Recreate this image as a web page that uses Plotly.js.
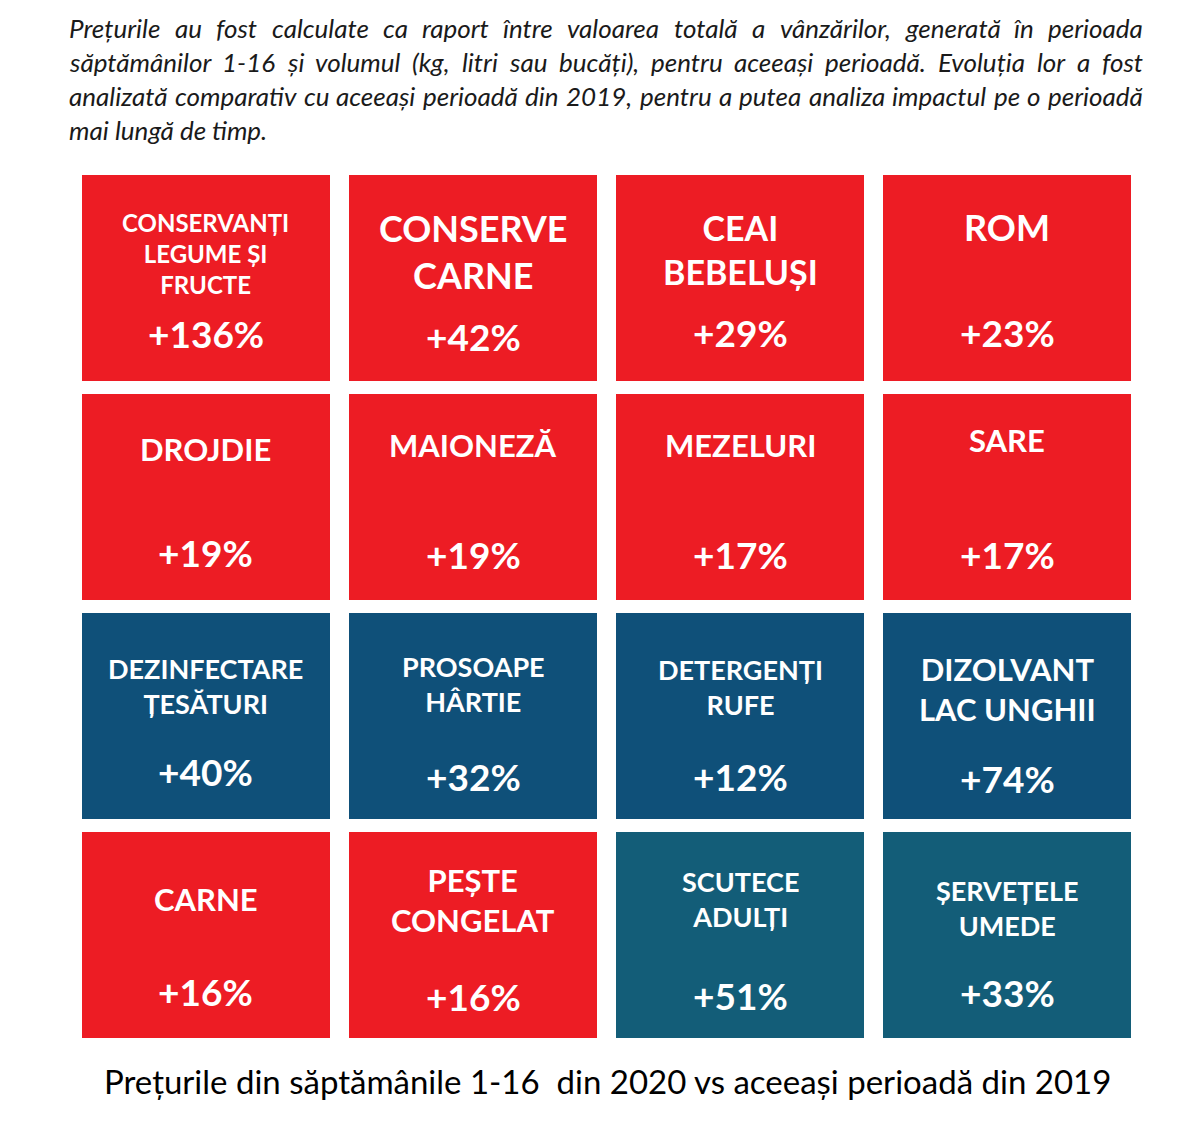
<!DOCTYPE html>
<html><head><meta charset="utf-8">
<script src="https://cdn.plot.ly/plotly-3.0.1.min.js"></script>
<style>body{margin:0;background:#fff}</style>
</head><body><div id="chart" style="width:1200px;height:1125px"></div>
<script>
// ---- data ----
const categories = [
  ['CONSERVANȚI','LEGUME ȘI','FRUCTE'], ['CONSERVE','CARNE'], ['CEAI','BEBELUȘI'], ['ROM'],
  ['DROJDIE'], ['MAIONEZĂ'], ['MEZELURI'], ['SARE'],
  ['DEZINFECTARE','ȚESĂTURI'], ['PROSOAPE','HÂRTIE'], ['DETERGENȚI','RUFE'], ['DIZOLVANT','LAC UNGHII'],
  ['CARNE'], ['PEȘTE','CONGELAT'], ['SCUTECE','ADULȚI'], ['ȘERVEȚELE','UMEDE']
];
const priceChange = [136, 42, 29, 23, 19, 19, 17, 17, 40, 32, 12, 74, 16, 16, 51, 33];
const segment = ['food','food','food','food','food','food','food','food',
                 'nonfood','nonfood','nonfood','nonfood','food','food','nonfood2','nonfood2'];
const headerLines = [
  'Prețurile au fost calculate ca raport între valoarea totală a vânzărilor, generată în perioada',
  'săptămânilor 1-16 și volumul (kg, litri sau bucăți), pentru aceeași perioadă. Evoluția lor a fost',
  'analizată comparativ cu aceeași perioadă din 2019, pentru a putea analiza impactul pe o perioadă',
  'mai lungă de timp.'
];
const footerText = 'Prețurile din săptămânile 1-16  din 2020 vs aceeași perioadă din 2019';

// ---- style ----
const colorMap = {food:'#ED1C24', nonfood:'#0F5079', nonfood2:'#135D78'};
const labelSize = [24,36,34,36, 31,31,31,31, 27,27,27,31, 31,31,27,27];
const labelShift = [25,27,29,51, 48,52,52,57, 30,32,29,27, 36,35,36,27];
const pctShift = [-55,-58,-54,-54, -55,-57,-57,-57, -55,-60,-60,-62, -56,-61,-60,-57];
const NCOL = 4;
const FONT = 'Lato, "Open Sans", sans-serif';
const HEADER_SIZE = 26, HEADER_LEFT = 68, HEADER_RIGHT = 1142;

const cols = priceChange.map((_, i) => i % NCOL);
const rows = priceChange.map((_, i) => Math.floor(i / NCOL));
const tileH = 0.945, tileW = 0.929;

const trace = {
  type: 'bar',
  x: cols,
  y: cols.map(() => tileH),
  base: rows.map(r => r - tileH / 2),
  width: tileW,
  marker: {color: segment.map(s => colorMap[s]), line: {width: 0}},
  text: categories.map((c, i) => c.join(' ') + ': +' + priceChange[i] + '%'),
  hoverinfo: 'text',
  textposition: 'none'
};

const annotations = [];
categories.forEach((lines, i) => {
  annotations.push({
    x: cols[i], y: rows[i], xref: 'x', yref: 'y', yshift: labelShift[i],
    text: '<b>' + lines.join('<br>') + '</b>', showarrow: false,
    xanchor: 'center', yanchor: 'middle', align: 'center',
    font: {family: FONT, size: labelSize[i], color: '#ffffff'}
  });
  annotations.push({
    x: cols[i], y: rows[i], xref: 'x', yref: 'y', yshift: pctShift[i],
    text: '<b>+' + priceChange[i] + '%</b>', showarrow: false,
    xanchor: 'center', yanchor: 'middle',
    font: {family: FONT, size: 37, color: '#ffffff'}
  });
});

// justified header: measure words, spread them over the line width
const ctx = document.createElement('canvas').getContext('2d');
ctx.font = 'italic ' + HEADER_SIZE + 'px Lato';
headerLines.forEach((t, k) => {
  const y = 1 - (28 + 34 * k) / 1125;
  const words = t.split(' ');
  const justify = k < headerLines.length - 1 && words.length > 1;
  const widths = words.map(w => ctx.measureText(w).width);
  const total = widths.reduce((a, b) => a + b, 0);
  const gap = justify ? (HEADER_RIGHT - HEADER_LEFT - total) / (words.length - 1) : ctx.measureText(' ').width;
  let x = HEADER_LEFT;
  words.forEach((w, j) => {
    annotations.push({
      xref: 'paper', yref: 'paper', x: x / 1200, y: y,
      xanchor: 'left', yanchor: 'middle', showarrow: false, borderpad: 0,
      text: '<i>' + w + '</i>',
      font: {family: FONT, size: HEADER_SIZE, color: '#1a1a1a'}
    });
    x += widths[j] + gap;
  });
});
annotations.push({
  xref: 'paper', yref: 'paper', x: 607 / 1200, y: 1 - 1081 / 1125,
  xanchor: 'center', yanchor: 'middle', showarrow: false,
  text: footerText, font: {family: FONT, size: 33, color: '#000000'}
});

const layout = {
  width: 1200, height: 1125,
  margin: {l: 0, r: 0, t: 0, b: 0},
  paper_bgcolor: '#ffffff', plot_bgcolor: '#ffffff',
  showlegend: false,
  xaxis: {range: [-0.7715, 3.7228], visible: false, fixedrange: true},
  yaxis: {range: [3.8676, -1.2694], visible: false, fixedrange: true},
  annotations: annotations,
  bargap: 0
};
Plotly.newPlot('chart', [trace], layout, {displayModeBar: false, staticPlot: true});
</script></body></html>
